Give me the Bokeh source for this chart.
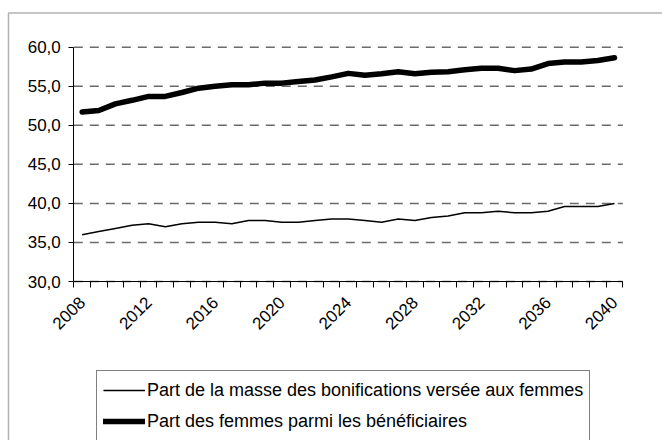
import math
from bokeh.plotting import figure
from bokeh.models import (FixedTicker, Legend, LegendItem, BoxAnnotation, Range1d,
                          LinearAxis)
from bokeh.embed import file_html
from bokeh.resources import INLINE

# ---- data ----
years = list(range(2008, 2041))
part_masse = [36.0, 36.4, 36.8, 37.2, 37.4, 37.0, 37.4, 37.6, 37.6, 37.4,
              37.8, 37.8, 37.6, 37.6, 37.8, 38.0, 38.0, 37.8, 37.6, 38.0,
              37.8, 38.2, 38.4, 38.8, 38.8, 39.0, 38.8, 38.8, 39.0, 39.6,
              39.6, 39.6, 40.0]
part_femmes = [51.7, 51.9, 52.75, 53.2, 53.7, 53.7, 54.2, 54.75, 55.0, 55.2,
               55.2, 55.4, 55.4, 55.6, 55.8, 56.2, 56.65, 56.4, 56.6, 56.85,
               56.6, 56.8, 56.85, 57.1, 57.3, 57.3, 57.0, 57.2, 57.9, 58.1,
               58.1, 58.3, 58.65]
series_labels = ["Part de la masse des bonifications versée aux femmes",
                 "Part des femmes parmi les bénéficiaires"]
x_tick_years = [2008, 2012, 2016, 2020, 2024, 2028, 2032, 2036, 2040]
x_tick_labels = ["2008", "2012", "2016", "2020", "2024", "2028", "2032", "2036", "2040"]
y_ticks = [30, 35, 40, 45, 50, 55, 60]
y_tick_labels = ["30,0", "35,0", "40,0", "45,0", "50,0", "55,0", "60,0"]

FONT = "Liberation Sans"
W, H = 662, 440

# ---- layout (pixels of the plotting area inside the canvas) ----
x0, x1 = years[0] - 0.5, years[-1] + 0.5
y0, y1 = y_ticks[0], y_ticks[-1]
PX_L, PX_R = 73.3, 622.3      # pixel x of x0, x1
PY_T, PY_B = 46.7, 281.0      # pixel y of y1, y0
sx = (PX_R - PX_L) / (x1 - x0)
sy = (PY_B - PY_T) / (y1 - y0)
xr = Range1d(x0 - PX_L / sx, x1 + (W - PX_R) / sx)
yr = Range1d(y0 - (H - PY_B) / sy, y1 + PY_T / sy)

p = figure(width=W, height=H, output_backend="svg", toolbar_location=None,
           x_range=xr, y_range=yr, x_axis_type=None, y_axis_type=None,
           min_border=0)
p.outline_line_color = None
p.background_fill_color = "white"
p.border_fill_color = "white"
p.grid.visible = False

# dashed horizontal grid lines between the axis bounds
p.segment(x0=[x0] * len(y_ticks), x1=[x1] * len(y_ticks), y0=y_ticks, y1=y_ticks,
          line_color="#6a6a6a", line_width=1.5, line_dash="9 7")

r_thin = p.line(years, part_masse, line_color="black", line_width=1.5,
                line_join="round")
r_thick = p.line(years, part_femmes, line_color="black", line_width=5.5,
                 line_join="round", line_cap="round")

# y axis
ya = LinearAxis(fixed_location=x0, bounds=(y0, y1))
ya.ticker = FixedTicker(ticks=y_ticks)
ya.major_label_overrides = {float(t): l for t, l in zip(y_ticks, y_tick_labels)}
ya.major_tick_out = 5
ya.major_tick_in = 0
ya.minor_tick_line_color = None
ya.axis_line_color = "black"
ya.major_tick_line_color = "black"
ya.major_label_standoff = 8
ya.major_label_text_font = FONT
ya.major_label_text_font_size = "17px"
ya.major_label_text_color = "black"
p.add_layout(ya, "left")

# x axis
boundaries = [y - 0.5 for y in years] + [years[-1] + 0.5]
xa = LinearAxis(fixed_location=y0, bounds=(x0, x1))
xa.ticker = FixedTicker(ticks=x_tick_years, minor_ticks=boundaries)
xa.major_label_overrides = {float(t): l for t, l in zip(x_tick_years, x_tick_labels)}
xa.major_tick_line_color = None
xa.major_tick_out = 6
xa.major_tick_in = 0
xa.minor_tick_out = 6
xa.minor_tick_in = 0
xa.minor_tick_line_color = "black"
xa.axis_line_color = "black"
xa.major_label_orientation = math.pi / 4
xa.major_label_standoff = 12
xa.major_label_text_font = FONT
xa.major_label_text_font_size = "17px"
xa.major_label_text_color = "black"
p.add_layout(xa, "below")

# outer chart border
border = BoxAnnotation(left=8, right=5000, top=12.5, bottom=5000,
                       left_units="canvas", right_units="canvas",
                       top_units="canvas", bottom_units="canvas",
                       fill_alpha=0, line_color="black", line_width=1.5,
                       level="overlay")
p.add_layout(border)

legend = Legend(items=[LegendItem(label=series_labels[0], renderers=[r_thin]),
                       LegendItem(label=series_labels[1], renderers=[r_thick])],
                location=(96, -1))
legend.label_text_font = FONT
legend.label_text_font_size = "18px"
legend.label_text_color = "black"
legend.border_line_color = "black"
legend.border_line_width = 1
legend.background_fill_color = "white"
legend.background_fill_alpha = 1
legend.padding = 6
legend.spacing = 5
legend.margin = 0
legend.label_height = 26
legend.glyph_height = 26
legend.glyph_width = 42
legend.label_standoff = 2
p.add_layout(legend)

open("out.html", "w").write(file_html(p, INLINE))
